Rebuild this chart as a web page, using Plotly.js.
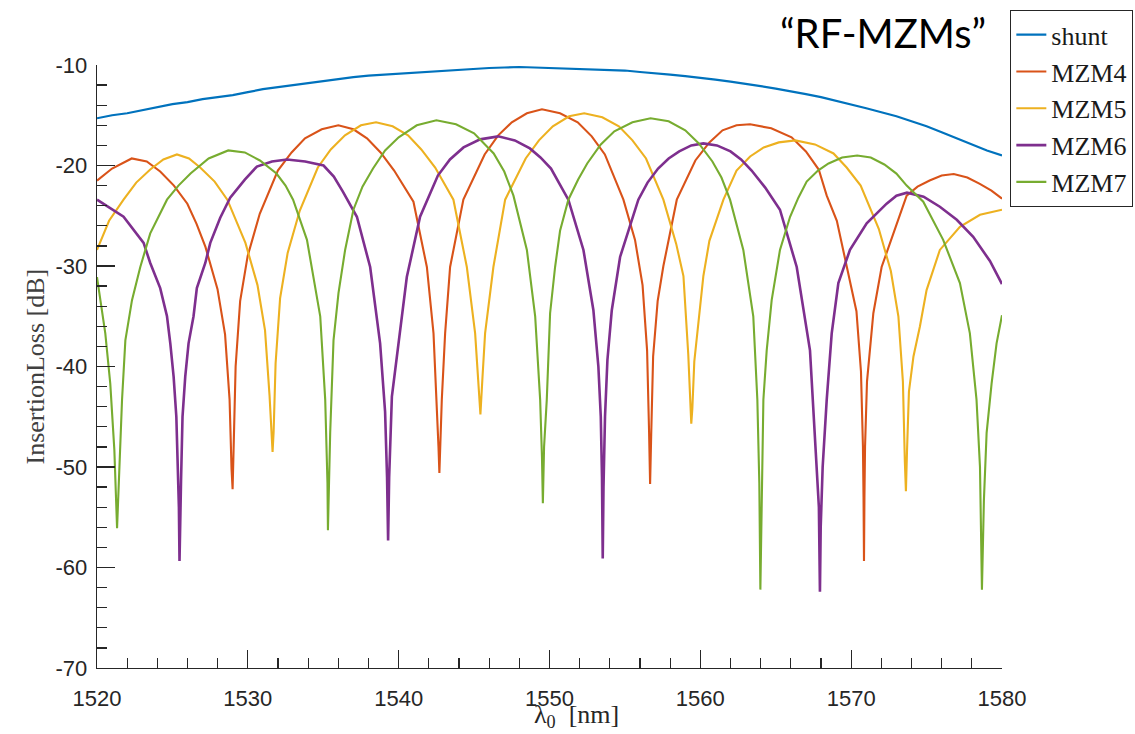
<!DOCTYPE html>
<html>
<head>
<meta charset="utf-8">
<script src="https://cdn.plot.ly/plotly-3.0.1.min.js"></script>
<style>html,body{margin:0;padding:0;background:#fff;}#chart{width:1135px;height:734px;}</style>
</head>
<body>
<div id="chart"></div>
<script>
// Wavelength [nm] and insertion loss [dB]
const shuntX = [1520,1521,1522,1523,1524,1525,1526,1527,1528,1529,1530,1531,1532,1533,1534,1535,1536,1537,1538,1539,1540,1541,1542,1543,1544,1545,1546,1547,1548,1549,1550,1551,1552,1553,1554,1555,1556,1557,1558,1559,1560,1561,1562,1563,1564,1565,1566,1567,1568,1569,1570,1571,1572,1573,1574,1575,1576,1577,1578,1579,1580];
const shuntY = [-15.3,-15.0,-14.8,-14.5,-14.15,-13.9,-13.7,-13.4,-13.2,-13.0,-12.7,-12.4,-12.2,-12.0,-11.8,-11.55,-11.4,-11.2,-11.05,-10.95,-10.85,-10.8,-10.7,-10.55,-10.45,-10.35,-10.3,-10.25,-10.2,-10.25,-10.3,-10.3,-10.35,-10.4,-10.45,-10.55,-10.7,-10.8,-10.95,-11.1,-11.25,-11.45,-11.65,-11.85,-12.1,-12.35,-12.6,-12.9,-13.2,-13.55,-13.9,-14.3,-14.7,-15.1,-15.6,-16.1,-16.7,-17.3,-17.9,-18.5,-19.0];

const mzm4X = [1520,1521,1522.3,1523.3,1524.19,1525.1,1525.99,1526.6,1527.19,1527.99,1528.49,1528.79,1528.92,1528.99,1529.06,1529.19,1529.49,1529.99,1530.79,1531.99,1532.9,1533.79,1534.9,1536.0,1537.0,1537.9,1538.8,1539.7,1540.98,1541.87,1542.31,1542.53,1542.64,1542.7,1542.77,1542.86,1543.08,1543.41,1544.29,1545.7,1546.6,1547.5,1548.5,1549.5,1550.7,1551.87,1552.8,1553.67,1554.9,1555.67,1556.17,1556.47,1556.6,1556.67,1556.74,1556.87,1557.17,1557.55,1558.44,1559.67,1560.6,1561.47,1562.4,1563.3,1564.7,1566.05,1567.0,1567.85,1568.38,1569.05,1569.7,1570.35,1570.65,1570.78,1570.82,1570.85,1570.88,1570.92,1571.05,1571.47,1572.02,1572.79,1573.68,1574.4,1575.2,1576.0,1576.8,1577.7,1578.5,1579.3,1580];
const mzm4Y = [-21.5,-20.3,-19.3,-19.6,-20.6,-22.0,-23.8,-25.8,-28.1,-32.3,-36.8,-43.3,-50.2,-52.2,-48.0,-40.0,-33.5,-29.0,-24.8,-20.5,-18.7,-17.3,-16.4,-16.0,-16.4,-17.3,-18.7,-20.5,-23.6,-30.1,-36.7,-43.3,-48.0,-50.6,-46.4,-43.3,-36.7,-30.1,-23.4,-18.9,-17.0,-15.7,-14.8,-14.4,-14.8,-15.7,-17.1,-18.9,-23.4,-27.4,-31.9,-38.4,-46.4,-51.7,-47.0,-39.0,-33.5,-30.0,-23.4,-19.5,-17.7,-16.5,-16.0,-15.9,-16.3,-17.2,-18.6,-20.4,-23.0,-25.5,-30.0,-34.5,-40.5,-47.9,-53.0,-59.35,-53.0,-48.0,-41.5,-34.7,-30.1,-26.75,-23.0,-22.1,-21.5,-21.0,-20.85,-21.2,-21.8,-22.5,-23.3];

const mzm5X = [1520,1520.8,1521.76,1522.6,1523.53,1524.4,1525.3,1526.1,1526.84,1527.8,1528.64,1529.84,1530.64,1531.14,1531.44,1531.57,1531.64,1531.71,1531.84,1532.14,1532.64,1533.44,1534.64,1535.5,1536.44,1537.5,1538.5,1539.6,1540.62,1541.5,1542.42,1543.63,1544.52,1545.07,1545.28,1545.42,1545.56,1545.73,1546.28,1547.06,1548.42,1549.3,1550.22,1551.3,1552.3,1553.5,1554.6,1555.5,1556.4,1557.55,1558.4,1558.88,1559.2,1559.33,1559.4,1559.47,1559.6,1560.2,1560.6,1561.53,1562.4,1563.3,1564.2,1565.2,1566.3,1567.6,1568.83,1569.7,1570.63,1571.83,1572.63,1573.13,1573.43,1573.56,1573.63,1573.7,1573.83,1574.13,1574.56,1575.0,1575.88,1577.21,1578.54,1580];
const mzm5Y = [-28.4,-25.5,-23.4,-21.7,-20.4,-19.4,-18.9,-19.3,-20.2,-21.6,-23.4,-27.7,-31.9,-36.4,-42.9,-47.0,-48.5,-46.5,-39.7,-33.2,-28.7,-24.5,-20.2,-18.4,-17.0,-16.0,-15.7,-16.1,-17.0,-18.4,-20.2,-23.4,-30.1,-36.7,-41.5,-44.76,-41.0,-36.7,-30.1,-23.4,-19.3,-17.5,-16.1,-15.1,-14.8,-15.2,-16.1,-17.5,-19.3,-23.4,-27.8,-31.0,-38.8,-44.2,-45.7,-44.2,-39.5,-31.0,-27.5,-23.4,-20.5,-19.1,-18.2,-17.7,-17.5,-17.9,-18.8,-20.2,-22.0,-26.3,-30.5,-35.0,-41.5,-49.5,-52.4,-48.5,-42.5,-39.0,-36.0,-32.4,-28.4,-26.1,-24.9,-24.4];

const mzm6X = [1520,1521.76,1523.09,1523.53,1524.19,1524.64,1524.86,1525.08,1525.26,1525.37,1525.43,1525.47,1525.51,1525.57,1525.67,1525.85,1526.07,1526.4,1526.62,1527.18,1527.51,1528.17,1528.83,1529.8,1530.6,1531.6,1532.6,1533.8,1535.02,1535.7,1536.3,1537.23,1538.11,1538.77,1539.1,1539.23,1539.3,1539.37,1539.55,1539.99,1540.54,1541.42,1542.6,1543.4,1544.3,1545.4,1546.6,1547.7,1548.7,1549.4,1550.1,1551.25,1552.25,1552.91,1553.24,1553.4,1553.48,1553.53,1553.58,1553.68,1553.84,1554.13,1554.68,1555.89,1556.5,1557.2,1557.9,1558.6,1559.4,1560.2,1561.1,1562.0,1562.7,1563.4,1564.3,1565.28,1566.39,1567.27,1567.67,1567.86,1567.93,1567.98,1568.11,1568.38,1568.71,1569.15,1569.92,1571.03,1572.35,1573.0,1573.7,1574.8,1575.88,1577.0,1578.09,1579.2,1580];
const mzm6Y = [-23.4,-25.1,-27.7,-29.7,-32.2,-35.0,-37.7,-41.0,-45.0,-50.0,-54.0,-59.35,-55.0,-51.5,-45.0,-41.0,-37.7,-35.0,-32.2,-29.7,-27.7,-25.2,-23.2,-21.4,-20.1,-19.6,-19.4,-19.6,-20.0,-21.1,-22.6,-25.1,-30.1,-37.7,-44.5,-51.0,-57.3,-51.0,-43.0,-37.7,-31.1,-25.1,-21.0,-19.4,-18.2,-17.4,-17.1,-17.5,-18.3,-19.2,-20.3,-23.4,-28.4,-34.4,-40.0,-45.0,-51.0,-59.1,-52.0,-45.0,-39.35,-34.4,-29.1,-23.4,-21.7,-20.3,-19.3,-18.6,-18.0,-17.8,-18.0,-18.6,-19.4,-20.5,-22.2,-24.4,-30.1,-38.4,-48.3,-54.0,-62.4,-56.0,-50.0,-43.3,-36.7,-31.7,-28.4,-25.75,-23.8,-23.0,-22.7,-23.1,-24.1,-25.4,-27.1,-29.5,-31.8];

const mzm7X = [1520,1520.55,1520.88,1521.15,1521.33,1521.5,1521.66,1521.88,1522.32,1522.87,1523.53,1524.64,1525.4,1526.2,1527.4,1528.7,1529.8,1530.8,1531.9,1532.5,1533.0,1533.92,1534.8,1535.13,1535.28,1535.31,1535.38,1535.46,1535.68,1536.01,1536.45,1537.0,1537.6,1538.3,1539.1,1540.0,1541.2,1542.5,1543.8,1545.0,1546.3,1547.0,1547.61,1548.5,1549.05,1549.38,1549.5,1549.56,1549.64,1549.82,1550.04,1550.37,1550.7,1551.25,1551.9,1552.5,1553.4,1554.3,1555.5,1556.7,1557.9,1559.0,1559.9,1560.8,1561.4,1561.97,1562.85,1563.51,1563.78,1563.91,1563.98,1564.09,1564.18,1564.4,1564.73,1565.28,1565.95,1566.5,1567.05,1567.8,1568.5,1569.4,1570.4,1571.3,1572.2,1573.0,1573.68,1574.78,1576.1,1577.21,1577.87,1578.31,1578.54,1578.67,1578.8,1578.98,1579.31,1579.64,1580];
const mzm7Y = [-31.1,-36.7,-41.7,-48.3,-56.1,-50.0,-43.3,-37.4,-33.4,-30.1,-26.75,-23.4,-22.0,-20.8,-19.3,-18.5,-18.7,-19.5,-20.8,-22.0,-23.4,-27.4,-35.0,-43.3,-51.6,-56.3,-51.0,-46.6,-37.4,-32.7,-28.4,-24.4,-22.1,-20.3,-18.5,-17.2,-16.0,-15.5,-15.9,-16.8,-18.8,-20.6,-23.0,-28.4,-35.0,-43.3,-49.0,-53.6,-48.0,-43.3,-34.7,-30.1,-26.5,-23.4,-21.4,-19.8,-17.9,-16.6,-15.7,-15.3,-15.6,-16.5,-17.8,-19.6,-21.2,-23.4,-28.4,-35.0,-43.3,-51.6,-62.2,-51.6,-43.3,-38.4,-33.4,-28.4,-25.1,-23.2,-21.6,-20.5,-19.8,-19.2,-19.0,-19.2,-19.9,-20.8,-22.0,-23.6,-27.4,-31.7,-36.7,-43.3,-50.0,-62.2,-53.3,-46.6,-41.7,-37.7,-34.9];

const seriesNames = ["shunt","MZM4","MZM5","MZM6","MZM7"];
const xTickVals = [1520,1530,1540,1550,1560,1570,1580];
const yTickVals = [-70,-60,-50,-40,-30,-20,-10];

const colors = ["#0072BD","#D95319","#EDB120","#7E2F8E","#77AC30"];
const widths = [2.2,2.1,2.1,2.6,2.1];
const xs = [shuntX,mzm4X,mzm5X,mzm6X,mzm7X];
const ys = [shuntY,mzm4Y,mzm5Y,mzm6Y,mzm7Y];

const traces = seriesNames.map((n,i)=>({
  type:'scatter', mode:'lines', name:n, x:xs[i], y:ys[i],
  line:{color:colors[i], width:widths[i]}
}));

const axCol = '#262626';
const tickFont = {family:'"Liberation Sans", Arial, sans-serif', size:22, color:axCol};
const common = {
  showline:true, linecolor:axCol, linewidth:1.3, mirror:false,
  ticks:'inside', ticklen:18, tickwidth:1.3, tickcolor:axCol,
  showgrid:false, zeroline:false, tickfont:tickFont,
  minor:{ticks:'inside', ticklen:10, tickwidth:1.3, tickcolor:axCol, showgrid:false}
};

const layout = {
  width:1135, height:734,
  margin:{l:97, r:133, t:65, b:66, pad:0},
  paper_bgcolor:'#fff', plot_bgcolor:'#fff',
  showlegend:true,
  xaxis:Object.assign({}, common, {range:[1520,1580], tickvals:xTickVals, ticktext:xTickVals.map(String),
    minor:Object.assign({}, common.minor, {dtick:2, tick0:1520}), ticklabelstandoff:10}),
  yaxis:Object.assign({}, common, {range:[-70,-10], tickvals:yTickVals, ticktext:yTickVals.map(String),
    minor:Object.assign({}, common.minor, {dtick:2, tick0:-70}), ticklabelstandoff:4}),
  legend:{xref:'container', yref:'container', x:0.8899, y:0.9864, xanchor:'left', yanchor:'top', bgcolor:'#fff',
    bordercolor:axCol, borderwidth:1.3,
    font:{family:'"Liberation Serif", serif', size:26, color:'#1a1a1a'},
    tracegroupgap:0, itemwidth:30},
  annotations:[
    {text:'“RF-MZMs”', xref:'paper', yref:'paper', x:0.869, y:1.053, xanchor:'center', yanchor:'middle',
     showarrow:false, font:{family:'Lato, "Open Sans", sans-serif', size:40, color:'#000'}},
    {text:'λ<sub>0</sub>  [nm]', xref:'paper', yref:'paper', x:0.53, y:-0.079, xanchor:'center', yanchor:'middle',
     showarrow:false, font:{family:'"Liberation Serif", serif', size:26, color:axCol}},
    {text:'InsertionLoss [dB]', xref:'paper', yref:'paper', x:-0.0685, y:0.5, xanchor:'center', yanchor:'middle',
     textangle:-90, showarrow:false, font:{family:'"Liberation Serif", serif', size:26, color:'#404040'}}
  ]
};

Plotly.newPlot('chart', traces, layout, {displayModeBar:false, staticPlot:true});
</script>
</body>
</html>
